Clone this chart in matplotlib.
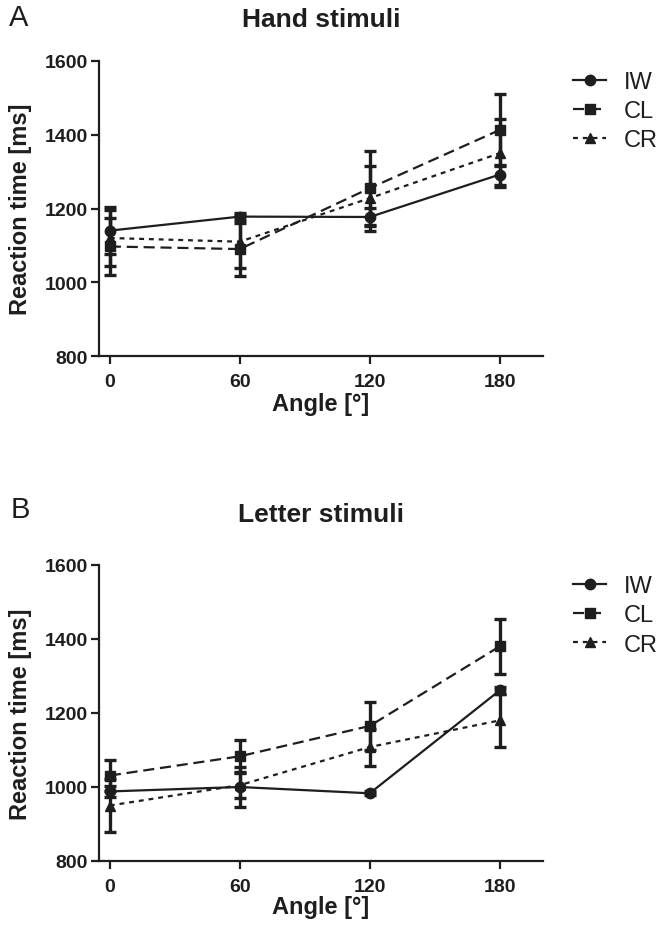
import matplotlib
matplotlib.use("Agg")
import matplotlib.pyplot as plt
from matplotlib.lines import Line2D

plt.rcParams['font.family'] = ['Liberation Sans', 'DejaVu Sans']

angles = [0, 60, 120, 180]
series = ["IW", "CL", "CR"]

hand_iw = [1140, 1178, 1177, 1292]
hand_iw_err = [63, 10, 25, 27]
hand_cl = [1097, 1090, 1255, 1413]
hand_cl_err = [78, 72, 100, 97]
hand_cr = [1120, 1110, 1228, 1350]
hand_cr_err = [75, 72, 88, 92]

letter_iw = [988, 1000, 983, 1261]
letter_iw_err = [15, 54, 5, 10]
letter_cl = [1031, 1083, 1165, 1380]
letter_cl_err = [43, 45, 64, 75]
letter_cr = [950, 1005, 1108, 1180]
letter_cr_err = [71, 35, 50, 72]

yticks = [800, 1000, 1200, 1400, 1600]

C = '#1e1e1e'
W, H = 664, 929
fig = plt.figure(figsize=(W/100, H/100), dpi=100)

styles = {
    "IW": dict(marker='o', ls='-', dashes=None, ms=7.5),
    "CL": dict(marker='s', ls='--', dashes=(5, 2.6), ms=7),
    "CR": dict(marker='^', ls=':', dashes=(2.2, 2.2), ms=7),
}

def panel(rect, title, data, title_pad, xlabelpad):
    ax = fig.add_axes(rect)
    for name, (vals, errs) in zip(series, data):
        st = styles[name]
        eb = ax.errorbar(angles, vals, yerr=errs, color=C, lw=1.6,
                         marker=st['marker'], ms=st['ms'], mfc=C, mec=C,
                         elinewidth=2.4, capsize=4.5, capthick=2.4, zorder=3)
        line = eb.lines[0]
        if st['dashes'] is not None:
            line.set_dashes(st['dashes'])
    ax.set_xlim(-5, 200)
    ax.set_ylim(800, 1600)
    ax.set_xticks(angles)
    ax.set_yticks(yticks)
    for s in ['top', 'right']:
        ax.spines[s].set_visible(False)
    for s in ['left', 'bottom']:
        ax.spines[s].set_linewidth(1.6)
        ax.spines[s].set_color(C)
    ax.tick_params(axis='both', length=6, width=1.6, color=C, labelsize=14,
                   labelcolor=C)
    ax.tick_params(axis='x', pad=6)
    ax.tick_params(axis='y', pad=2)
    for lab in ax.get_xticklabels() + ax.get_yticklabels():
        lab.set_fontweight('bold')
    ax.set_xlabel("Angle [°]", fontsize=17, fontweight='bold', color=C, labelpad=xlabelpad)
    ax.set_ylabel("Reaction time [ms]", fontsize=17, fontweight='bold', color=C, labelpad=9)
    ax.set_title(title, fontsize=19, fontweight='bold', color=C, pad=title_pad)
    handles = []
    for name in series:
        st = styles[name]
        h = Line2D([0], [0], color=C, lw=1.6, marker=st['marker'], ms=st['ms'],
                   mfc=C, mec=C, ls=st['ls'])
        if st['dashes'] is not None:
            h.set_dashes(st['dashes'])
        handles.append(h)
    leg = ax.legend(handles, series, loc='upper left', bbox_to_anchor=(1.068, 0.965),
                    frameon=False, fontsize=17, handlelength=1.4, handletextpad=0.75,
                    labelspacing=0.3, borderaxespad=0, borderpad=0)
    for t in leg.get_texts():
        t.set_color(C)
    return ax

ax1 = panel([99/W, 1 - 357/H, 444/W, 295/H], "Hand stimuli",
            [(hand_iw, hand_iw_err), (hand_cl, hand_cl_err), (hand_cr, hand_cr_err)],
            25, 2)
ax2 = panel([99/W, 1 - 862/H, 444/W, 296/H], "Letter stimuli",
            [(letter_iw, letter_iw_err), (letter_cl, letter_cl_err), (letter_cr, letter_cr_err)],
            32, 0)

fig.text(9/W, 1 - 18/H, "A", fontsize=21, color=C, va='center', ha='left')
fig.text(11/W, 1 - 510/H, "B", fontsize=21, color=C, va='center', ha='left')

fig.savefig("out.png", dpi=100)
